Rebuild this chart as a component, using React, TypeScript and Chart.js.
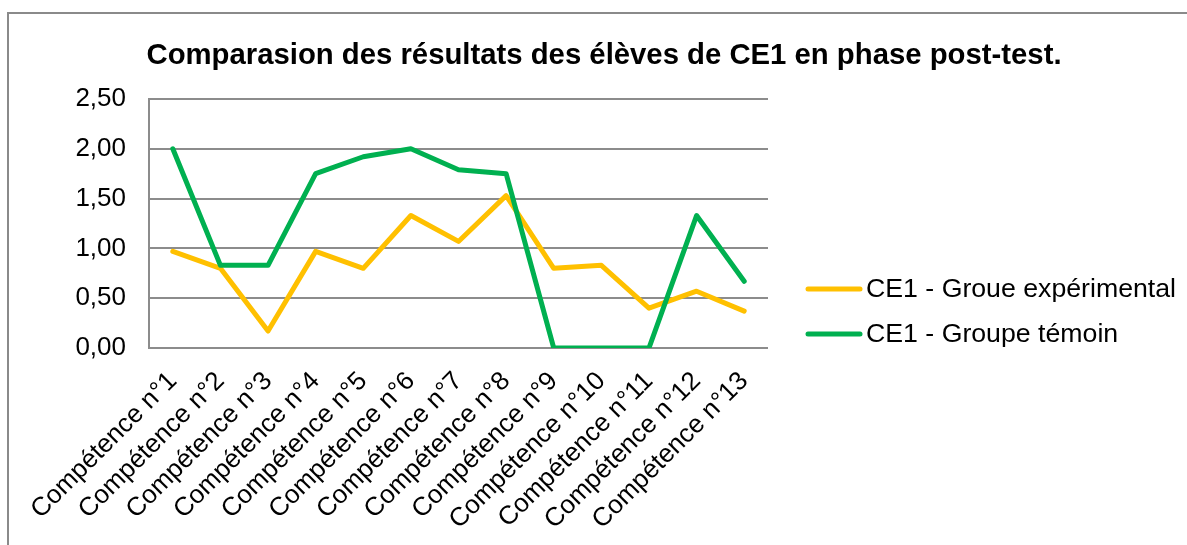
import React, { useEffect, useRef } from "react";
import { Chart, registerables } from "chart.js";

Chart.register(...registerables);

const categories = [
  "Compétence n°1",
  "Compétence n°2",
  "Compétence n°3",
  "Compétence n°4",
  "Compétence n°5",
  "Compétence n°6",
  "Compétence n°7",
  "Compétence n°8",
  "Compétence n°9",
  "Compétence n°10",
  "Compétence n°11",
  "Compétence n°12",
  "Compétence n°13",
];
const experimental = [0.97, 0.8, 0.17, 0.97, 0.8, 1.33, 1.07, 1.53, 0.8, 0.83, 0.4, 0.57, 0.37];
const temoin = [2.0, 0.83, 0.83, 1.75, 1.92, 2.0, 1.79, 1.75, 0, 0, 0, 1.33, 0.67];
const seriesNames = ["CE1 - Groue expérimental", "CE1 - Groupe témoin"];
const titleText = "Comparasion des résultats des élèves de CE1 en phase post-test.";

const FONT = "'Liberation Sans', Arial, sans-serif";

const decorPlugin = {
  id: "decor",
  beforeDraw(chart: any) {
    const ctx = chart.ctx;
    ctx.save();
    ctx.fillStyle = "#ffffff";
    ctx.fillRect(0, 0, chart.width, chart.height);
    ctx.strokeStyle = "#8a8a8a";
    ctx.lineWidth = 2;
    ctx.beginPath();
    ctx.moveTo(8, chart.height + 5);
    ctx.lineTo(8, 13);
    ctx.lineTo(chart.width + 5, 13);
    ctx.stroke();
    ctx.restore();
  },
  afterDraw(chart: any) {
    const ctx = chart.ctx;
    ctx.save();
    // title
    ctx.fillStyle = "#000";
    ctx.font = `bold 29.3px ${FONT}`;
    ctx.textAlign = "center";
    ctx.textBaseline = "middle";
    ctx.fillText(titleText, 604, 56);
    // legend
    ctx.font = `26.7px ${FONT}`;
    ctx.textAlign = "left";
    const ys = [289, 334];
    chart.data.datasets.forEach((ds: any, i: number) => {
      ctx.strokeStyle = ds.borderColor;
      ctx.lineWidth = 5;
      ctx.lineCap = "round";
      ctx.beginPath();
      ctx.moveTo(808, ys[i]);
      ctx.lineTo(860, ys[i]);
      ctx.stroke();
      ctx.fillStyle = "#000";
      ctx.fillText(ds.label, 866, ys[i] + 1);
    });
    ctx.restore();
  },
};

export default function App() {
  const ref = useRef<HTMLCanvasElement>(null);
  useEffect(() => {
    if (!ref.current) return;
    const chart = new Chart(ref.current, {
      type: "line",
      data: {
        labels: categories,
        datasets: [
          {
            label: seriesNames[0],
            data: experimental,
            borderColor: "#FFC000",
            backgroundColor: "#FFC000",
            borderWidth: 5,
            pointRadius: 0,
            borderJoinStyle: "round",
            borderCapStyle: "round",
            tension: 0,
            order: 1,
          },
          {
            label: seriesNames[1],
            data: temoin,
            borderColor: "#00B050",
            backgroundColor: "#00B050",
            borderWidth: 5,
            pointRadius: 0,
            borderJoinStyle: "round",
            borderCapStyle: "round",
            tension: 0,
            order: 0,
          },
        ],
      },
      plugins: [decorPlugin],
      options: {
        animation: false,
        responsive: false,
        devicePixelRatio: 1,
        layout: { padding: { top: 99, right: 419, left: 0, bottom: 0 } },
        plugins: {
          legend: { display: false },
          title: { display: false },
          tooltip: { enabled: false },
        },
        scales: {
          x: {
            offset: true,
            afterFit: (s: any) => {
              s.height = 197;
            },
            grid: { display: false, drawTicks: false },
            border: { display: false },
            ticks: {
              autoSkip: false,
              minRotation: 45,
              maxRotation: 45,
              padding: 18,
              color: "#000",
              font: { family: FONT, size: 26 },
            },
          },
          y: {
            min: 0,
            max: 2.5,
            afterFit: (s: any) => {
              s.width = 149;
            },
            grid: { color: "#8c8c8c", lineWidth: 2, drawTicks: false },
            border: { display: true, color: "#8c8c8c", width: 2 },
            ticks: {
              stepSize: 0.5,
              padding: 23,
              color: "#000",
              font: { family: FONT, size: 26 },
              callback: (v: any) => Number(v).toFixed(2).replace(".", ","),
            },
          },
        },
      },
    } as any);
    return () => chart.destroy();
  }, []);
  return (
    <div style={{ position: "absolute", left: 0, top: 0, width: 1187, height: 545, overflow: "hidden" }}>
      <canvas ref={ref} width={1187} height={545} style={{ display: "block" }} />
    </div>
  );
}
